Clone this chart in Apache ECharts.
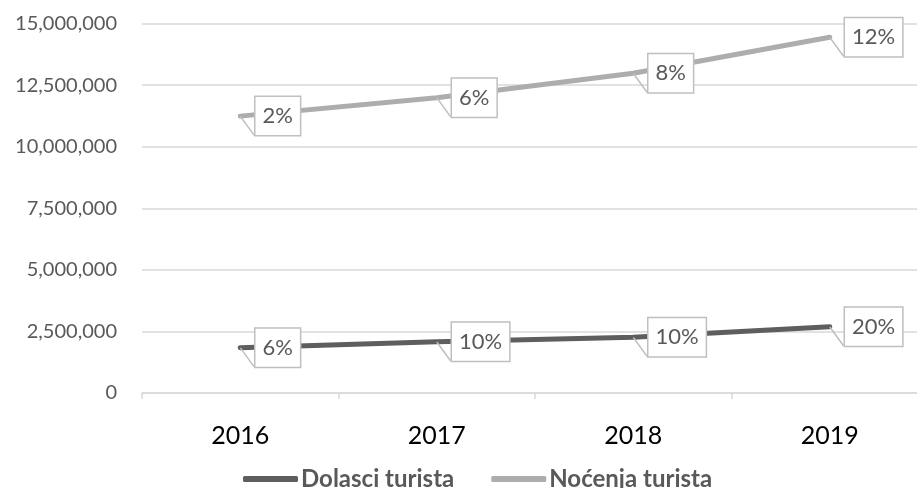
<!DOCTYPE html>
<html>
<head>
<meta charset="utf-8">
<script src="https://cdn.jsdelivr.net/npm/echarts@6/dist/echarts.min.js"></script>
<style>html,body{margin:0;padding:0;background:#fff}#c{width:917px;height:488px}</style>
</head>
<body>
<div id="c"></div>
<script>
const categories = ['2016', '2017', '2018', '2019'];
const dolasci = [1840000, 2080000, 2260000, 2690000];
const dolasciLabels = ['6%', '10%', '10%', '20%'];
const nocenja = [11240000, 11990000, 12980000, 14440000];
const nocenjaLabels = ['2%', '6%', '8%', '12%'];
const seriesNames = ['Dolasci turista', 'Noćenja turista'];
const FONT = 'Lato, "Liberation Sans", sans-serif';

const chart = echarts.init(document.getElementById('c'));

function labelCfg(texts) {
  return {
    show: true,
    position: 'right',
    distance: 15,
    formatter: p => texts[p.dataIndex],
    color: '#595959',
    fontFamily: FONT,
    fontSize: 22,
    lineHeight: 22,
    backgroundColor: '#fff',
    borderColor: '#BFBFBF',
    borderWidth: 1.5,
    padding: [8, 7, 8, 7]
  };
}

chart.setOption({
  animation: false,
  grid: { left: 142, width: 786, top: 23.5, bottom: 95, containLabel: false, outerBoundsMode: 'none' },
  xAxis: {
    type: 'category',
    data: categories,
    boundaryGap: true,
    axisLine: { lineStyle: { color: '#D9D9D9', width: 1.5 } },
    axisTick: { show: true, length: 6, lineStyle: { color: '#D9D9D9', width: 1.5 } },
    axisLabel: { color: '#000', fontFamily: FONT, fontSize: 25, margin: 30 }
  },
  yAxis: {
    type: 'value',
    min: 0, max: 15000000, interval: 2500000,
    axisLine: { show: false },
    axisTick: { show: false },
    splitLine: { lineStyle: { color: '#D9D9D9', width: 1.5 } },
    axisLabel: {
      color: '#595959', fontFamily: FONT, fontSize: 20, margin: 25,
      formatter: v => v.toLocaleString('en-US')
    }
  },
  legend: {
    left: 238, top: 462,
    itemWidth: 55, itemHeight: 6, itemGap: 37,
    icon: 'roundRect',
    textStyle: { color: '#595959', fontFamily: FONT, fontSize: 24, fontWeight: 'bold', padding: [0, 0, 0, -2] },
    data: seriesNames
  },
  series: [
    {
      name: seriesNames[0], type: 'line', data: dolasci,
      symbol: 'circle', symbolSize: 0.5, showSymbol: true,
      lineStyle: { color: '#5E5E5E', width: 5, cap: 'round' },
      itemStyle: { color: '#5E5E5E' },
      label: labelCfg(dolasciLabels),
      labelLine: { show: true, lineStyle: { color: '#BFBFBF', width: 1.5 } }
    },
    {
      name: seriesNames[1], type: 'line', data: nocenja,
      symbol: 'circle', symbolSize: 0.5, showSymbol: true,
      lineStyle: { color: '#ADADAD', width: 5, cap: 'round' },
      itemStyle: { color: '#ADADAD' },
      label: labelCfg(nocenjaLabels),
      labelLine: { show: true, lineStyle: { color: '#BFBFBF', width: 1.5 } }
    }
  ]
});
</script>
</body>
</html>
